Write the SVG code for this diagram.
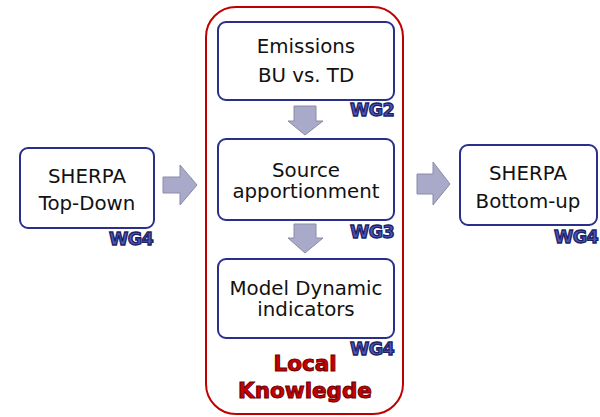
<svg xmlns="http://www.w3.org/2000/svg" width="600" height="417" viewBox="0 0 600 417">
<style>
.box{fill:#fff;stroke:#2b2f8c;stroke-width:2}
.t{font-family:"DejaVu Sans",Verdana,sans-serif;font-size:19.8px;fill:#111;text-anchor:middle}
.wg{font-family:"DejaVu Sans",Verdana,sans-serif;font-weight:bold;font-size:17.5px;fill:#4b56b8;stroke:#1c1f66;stroke-width:1.3;text-anchor:end;letter-spacing:-0.6px}
.arr{fill:#a9a9c9;stroke:#8a8aa8;stroke-width:1}
.lk{font-family:"DejaVu Sans",Verdana,sans-serif;font-weight:bold;font-size:21.5px;fill:#c80000;stroke:#6a0000;stroke-width:1;text-anchor:middle}
</style>
<rect x="206" y="7" width="197" height="407" rx="30" ry="30" fill="#fff" stroke="#c00000" stroke-width="2"/>
<g id="connectors">
<polygon class="arr" points="163,177 180,177 180,165 197,185 180,205 180,193 163,193"/>
<polygon class="arr" points="417,174 433,174 433,162 450,184 433,205 433,194 417,194"/>
<polygon class="arr" points="294,106 316,106 316,121 323,121 305,135 288,121 294,121"/>
<polygon class="arr" points="294,224 316,224 316,238 323,238 305,253 288,238 294,238"/>
</g>
<g id="sherpa-td">
<rect class="box" x="20" y="148" width="134" height="80" rx="8"/>
<text class="t" x="87" y="183">SHERPA</text>
<text class="t" x="87" y="210">Top-Down</text>
<text class="wg" x="153" y="245">WG4</text>
</g>
<g id="emissions">
<rect class="box" x="218" y="22" width="176" height="78" rx="8"/>
<text class="t" x="306" y="53">Emissions</text>
<text class="t" x="306" y="82">BU vs. TD</text>
<text class="wg" x="394" y="116">WG2</text>
</g>
<g id="source">
<rect class="box" x="218" y="139" width="176" height="81" rx="8"/>
<text class="t" x="306" y="177">Source</text>
<text class="t" x="306" y="198">apportionment</text>
<text class="wg" x="394" y="238">WG3</text>
</g>
<g id="model">
<rect class="box" x="218" y="259" width="176" height="79" rx="8"/>
<text class="t" x="306" y="295">Model Dynamic</text>
<text class="t" x="306" y="316">indicators</text>
<text class="wg" x="394" y="355">WG4</text>
</g>
<g id="local">
<text class="lk" x="305" y="371">Local</text>
<text class="lk" x="305" y="398">Knowlegde</text>
</g>
<g id="sherpa-bu">
<rect class="box" x="460" y="145" width="137" height="80" rx="8"/>
<text class="t" x="528" y="180">SHERPA</text>
<text class="t" x="528" y="208">Bottom-up</text>
<text class="wg" x="598" y="243">WG4</text>
</g>
</svg>
